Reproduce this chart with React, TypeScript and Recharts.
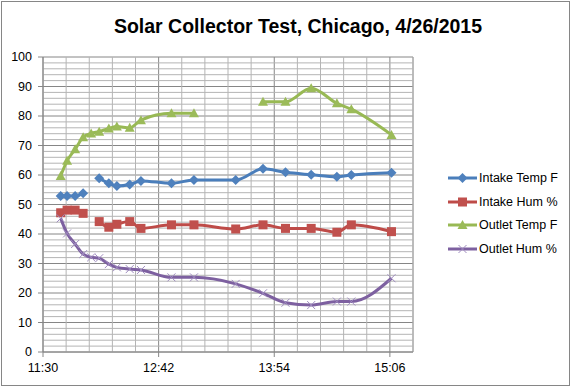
import * as React from 'react';
import { LineChart, Line, XAxis, YAxis, CartesianGrid, ReferenceLine } from 'recharts';

// readings (clock time) and the four measured series; null = no reading
const times = ['11:41', '11:45', '11:50', '11:55', '12:00', '12:05', '12:11', '12:16', '12:24', '12:31',
  '12:50', '13:04', '13:30', '13:47', '14:01', '14:17', '14:33', '14:42', '15:07'];
const intakeTemp = [52.9, 52.9, 52.9, 53.8, null, 58.9, 57.2, 56.3, 56.8, 58.0,
  57.2, 58.3, 58.3, 62.1, 60.9, 60.1, 59.4, 60.0, 60.8];
const intakeHum = [47.2, 48.1, 48.1, 47.0, null, 44.2, 42.3, 43.3, 44.2, 41.9,
  43.1, 43.1, 41.7, 43.1, 41.9, 41.9, 40.6, 43.1, 40.8];
const outletTemp = [59.7, 64.8, 68.7, 72.8, 74.1, 74.7, 75.8, 76.4, 76.0, 78.6,
  80.9, 80.9, null, 84.8, 84.8, 89.4, 84.3, 82.3, 73.6];
const outletHum = [45.3, 40.2, 36.6, 33.2, 32.1, 31.8, 29.8, 28.7, 28.1, 27.8,
  25.3, 25.3, 23.1, 19.9, 16.7, 15.9, 17.1, 17.1, 25.0];

// axis ticks (minutes after midnight) and gridlines
const xTicks = [690, 762, 834, 906];
const xMinor = [704.4, 718.8, 733.2, 747.6, 776.4, 790.8, 805.2, 819.6, 848.4, 862.8, 877.2, 891.6, 920.4];
const yTicks = [0, 10, 20, 30, 40, 50, 60, 70, 80, 90, 100];
const yMinor = yTicks.slice(0, -1).flatMap((v) => [v + 2, v + 4, v + 6, v + 8]);

const toMin = (s: string) => {
  const [h, m] = s.split(':').map(Number);
  return h * 60 + m;
};
const fmtTime = (v: number) => {
  const h = Math.floor(v / 60);
  const m = Math.round(v - h * 60);
  return `${h}:${m < 10 ? '0' + m : m}`;
};

const data = times.map((t, i) => ({
  t: toMin(t),
  intakeTemp: intakeTemp[i],
  intakeHum: intakeHum[i],
  outletTemp: outletTemp[i],
  outletHum: outletHum[i],
}));

const FONT = '"Liberation Sans", Arial, sans-serif';
const GRID_MINOR = '#b4b4b4';
const GRID_MAJOR = '#868686';

const series = [
  { key: 'intakeTemp', name: 'Intake Temp F', color: '#4a7ebb', fill: '#4f81bd', shape: 'diamond' },
  { key: 'intakeHum', name: 'Intake Hum %', color: '#be4b48', fill: '#c0504d', shape: 'square' },
  { key: 'outletTemp', name: 'Outlet Temp F', color: '#98b954', fill: '#9bbb59', shape: 'triangle' },
  { key: 'outletHum', name: 'Outlet Hum %', color: '#7d60a0', fill: '#8064a2', shape: 'x' },
];

function marker(shape: string, cx: number, cy: number, fill: string, key?: any) {
  if (shape === 'diamond') {
    return <path key={key} d={`M${cx},${cy - 5}L${cx + 5},${cy}L${cx},${cy + 5}L${cx - 5},${cy}Z`} fill={fill} />;
  }
  if (shape === 'square') {
    return <rect key={key} x={cx - 4.5} y={cy - 4.5} width={9} height={9} fill={fill} />;
  }
  if (shape === 'triangle') {
    return <path key={key} d={`M${cx},${cy - 5}L${cx + 5},${cy + 4}L${cx - 5},${cy + 4}Z`} fill={fill} />;
  }
  return (
    <path key={key} d={`M${cx - 4},${cy - 4}L${cx + 4},${cy + 4}M${cx + 4},${cy - 4}L${cx - 4},${cy + 4}`}
      stroke="#9f8cbf" strokeWidth={1} fill="none" />
  );
}

const makeDot = (shape: string, fill: string) => (props: any) => {
  const { cx, cy, key, value } = props;
  if (cx == null || cy == null || value == null) return <g key={key} />;
  return marker(shape, cx, cy, fill, key);
};

function LegendBox() {
  return (
    <div style={{ fontFamily: FONT, fontSize: 12.5, color: '#000' }}>
      {series.map((s) => (
        <div key={s.key} style={{ display: 'flex', alignItems: 'center', height: 23.7 }}>
          <svg width={30} height={12}>
            <line x1={0} y1={6} x2={29} y2={6} stroke={s.color} strokeWidth={3} />
            {marker(s.shape, 14.5, 6, s.fill)}
          </svg>
          <span style={{ marginLeft: 1 }}>{s.name}</span>
        </div>
      ))}
    </div>
  );
}

export default function App() {
  return (
    <div style={{ position: 'absolute', left: 0, top: 0, width: 571, height: 387, background: '#fff' }}>
      <div style={{ position: 'absolute', left: 1, top: 1, width: 567, height: 383, border: '1px solid #868686' }} />
      <div style={{ position: 'absolute', left: 0, top: 15, width: 596, textAlign: 'center',
        fontFamily: FONT, fontWeight: 'bold', fontSize: 19.5, color: '#000' }}>
        Solar Collector Test, Chicago, 4/26/2015
      </div>
      <div style={{ position: 'absolute', left: 0, top: 0 }}>
        <LineChart width={571} height={387} data={data} margin={{ top: 57, right: 158, bottom: 5, left: 0 }}>
          {yMinor.map((v) => (
            <ReferenceLine key={'ym' + v} y={v} stroke={GRID_MINOR} strokeWidth={1} />
          ))}
          {xMinor.map((v) => (
            <ReferenceLine key={'xm' + v} x={v} stroke={GRID_MINOR} strokeWidth={1} />
          ))}
          <CartesianGrid stroke={GRID_MAJOR} strokeWidth={1} />
          <XAxis
            dataKey="t"
            type="number"
            domain={[690, 920.4]}
            ticks={xTicks}
            tickFormatter={fmtTime}
            height={30}
            stroke={GRID_MAJOR}
            tickSize={5}
            tick={{ fill: '#000', fontSize: 12.5, fontFamily: FONT }}
            tickMargin={6}
            allowDataOverflow
          />
          <YAxis
            type="number"
            domain={[0, 100]}
            ticks={yTicks}
            width={43}
            stroke={GRID_MAJOR}
            tickSize={5}
            tick={{ fill: '#000', fontSize: 12.5, fontFamily: FONT }}
            tickMargin={6}
          />
          {series.map((s) => (
            <Line
              key={s.key}
              dataKey={s.key}
              name={s.name}
              type="monotone"
              stroke={s.color}
              strokeWidth={3}
              dot={makeDot(s.shape, s.fill)}
              activeDot={false}
              isAnimationActive={false}
            />
          ))}
        </LineChart>
      </div>
      <div style={{ position: 'absolute', left: 448, top: 166 }}>
        <LegendBox />
      </div>
    </div>
  );
}
